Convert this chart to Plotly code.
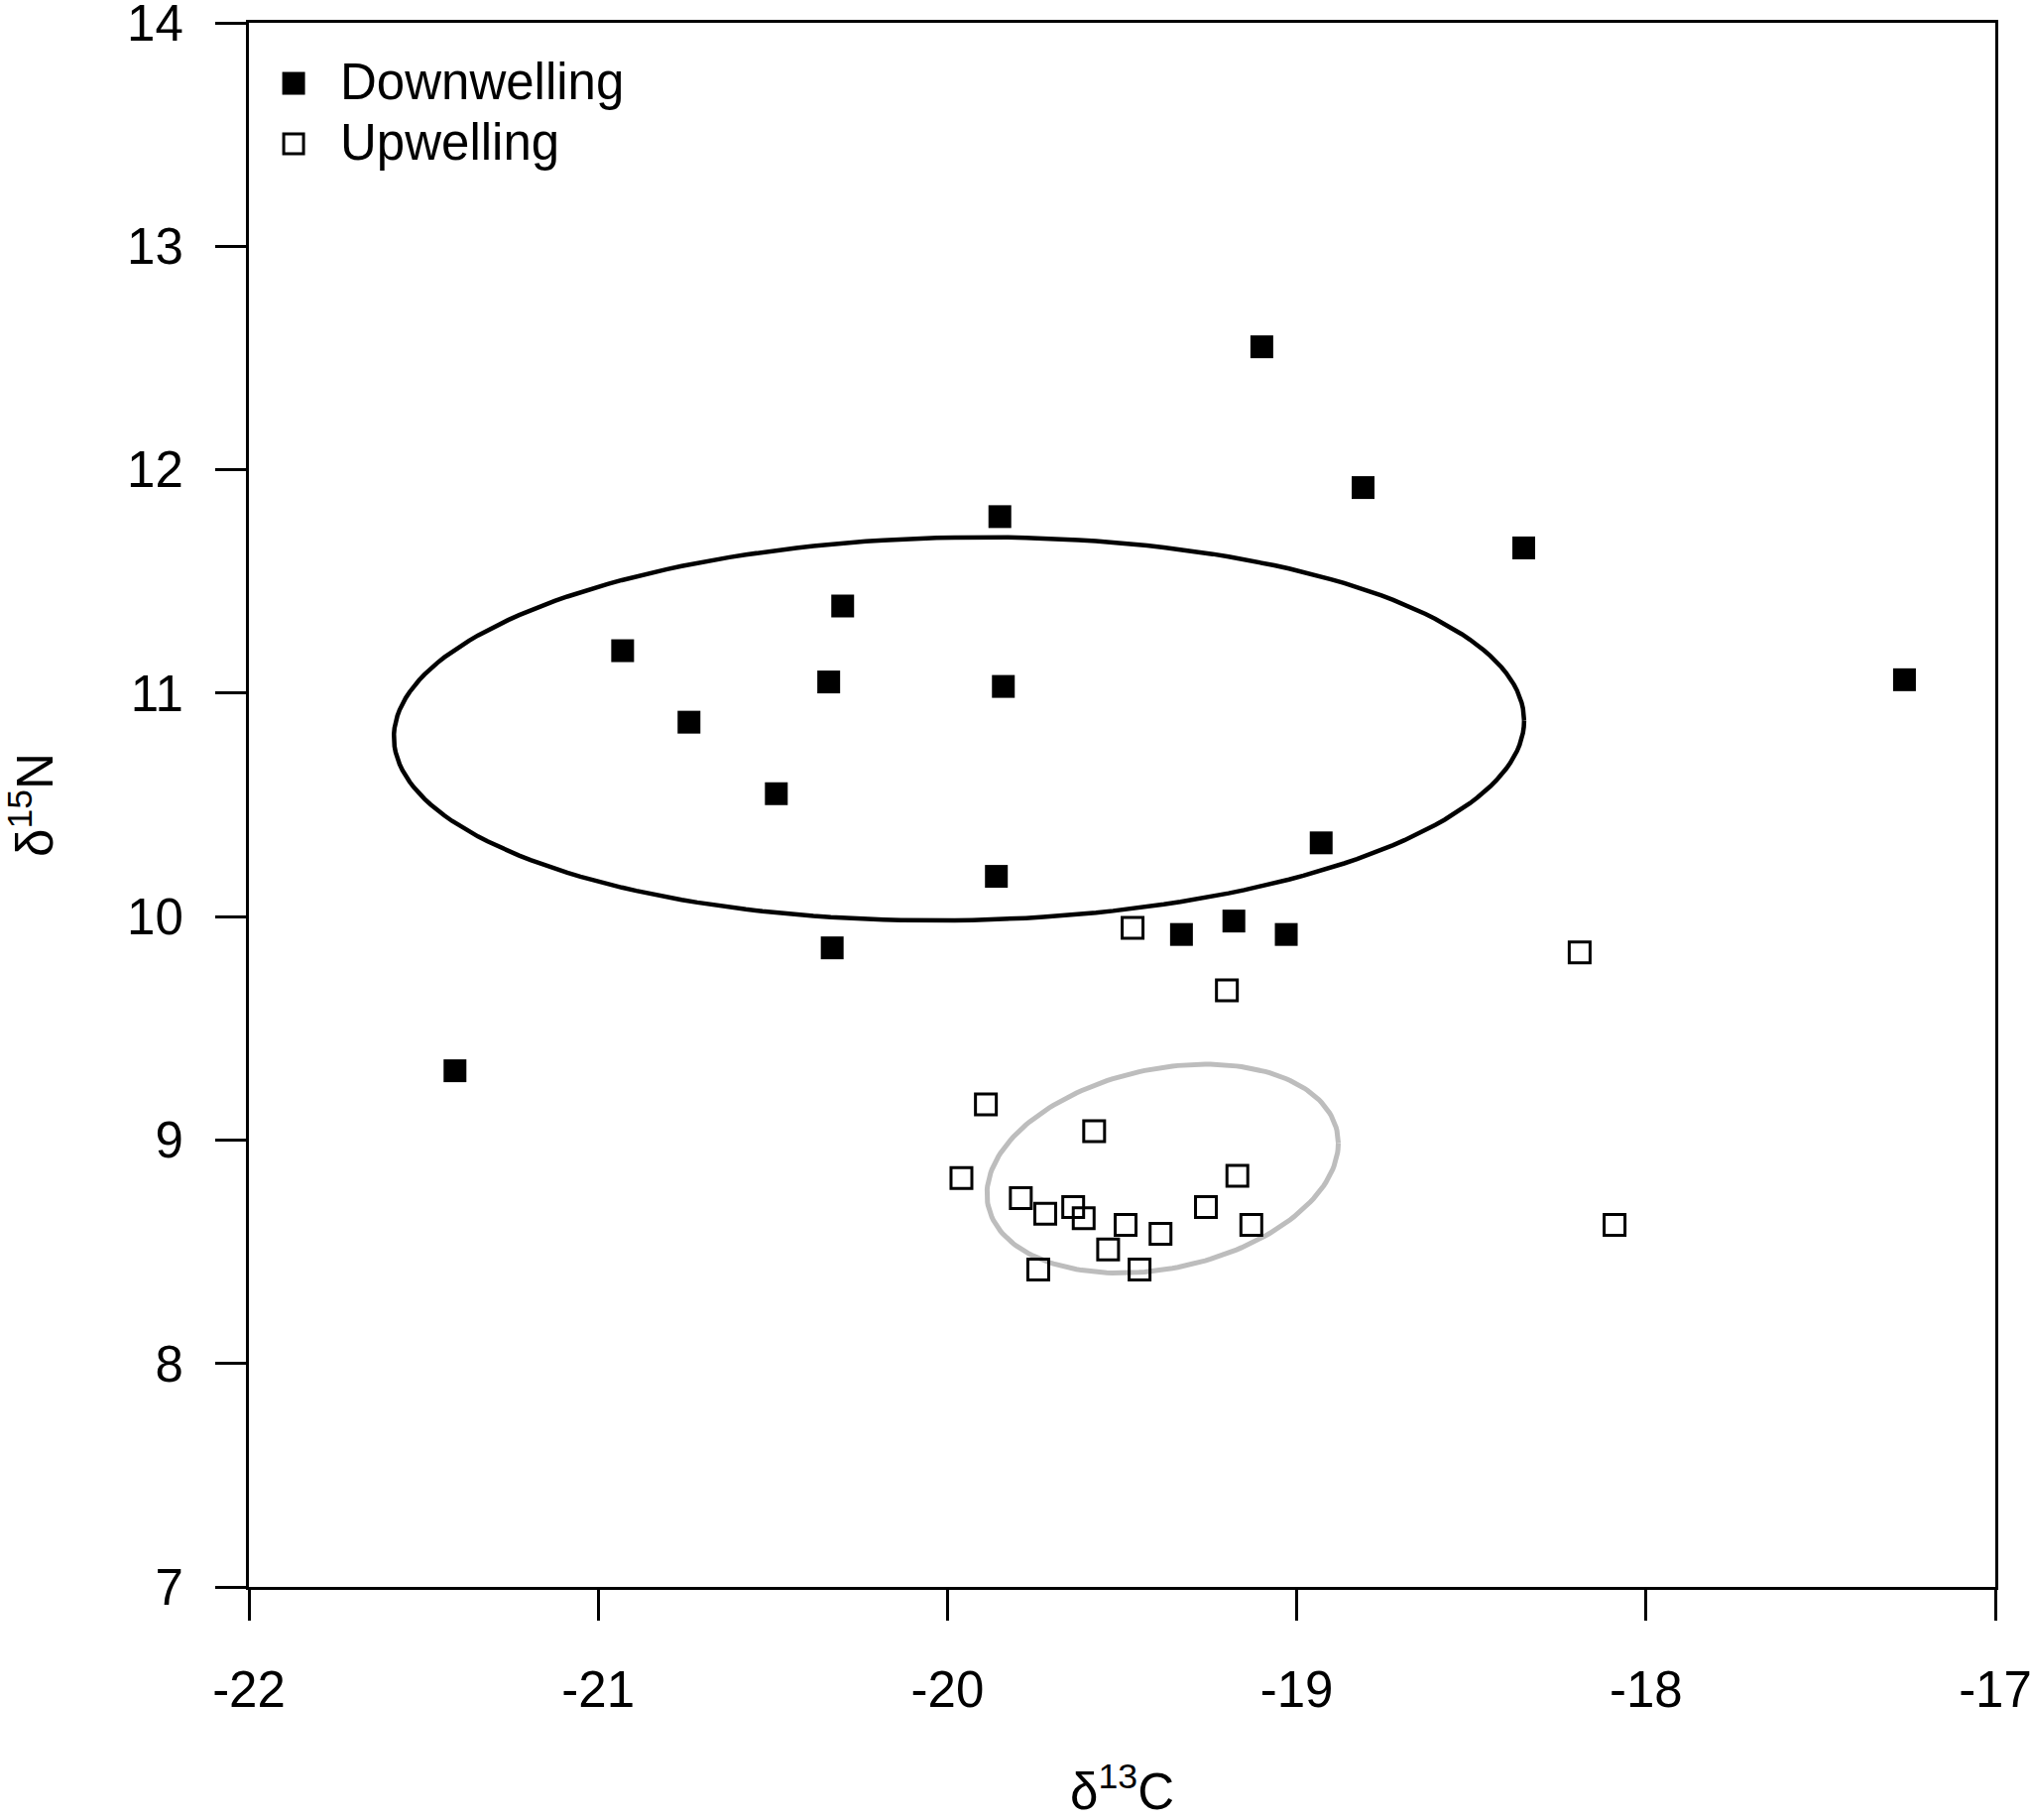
import numpy as np
import plotly.graph_objects as go

# d13C / d15N values
down_x = [-19.10, -18.81, -18.35, -19.85, -20.30, -20.93, -20.34, -19.84, -20.74,
          -17.26, -20.49, -18.93, -19.86, -19.18, -19.33, -19.03, -20.33, -21.41]
down_y = [12.55, 11.92, 11.65, 11.79, 11.39, 11.19, 11.05, 11.03, 10.87,
          11.06, 10.55, 10.33, 10.18, 9.98, 9.92, 9.92, 9.86, 9.31]

up_x = [-19.47, -18.19, -19.20, -19.89, -19.58, -19.96, -19.17, -19.79, -19.64, -19.26,
        -19.72, -19.61, -19.49, -19.13, -18.09, -19.39, -19.54, -19.74, -19.45]
up_y = [9.95, 9.84, 9.67, 9.16, 9.04, 8.83, 8.84, 8.74, 8.70, 8.70,
        8.67, 8.65, 8.62, 8.62, 8.62, 8.58, 8.51, 8.42, 8.42]

# ellipse: centre, half width, half height, tilt (y offset at the x extremes)
down_ell = dict(cx=-19.967, cy=10.840, a=1.618, b=0.857, c=0.037)
up_ell = dict(cx=-19.384, cy=8.872, a=0.503, b=0.453, c=0.114)

x_ticks = [-22, -21, -20, -19, -18, -17]
x_tick_text = ['-22', '-21', '-20', '-19', '-18', '-17']
y_ticks = [7, 8, 9, 10, 11, 12, 13, 14]

FONT = "Liberation Sans, Arial, sans-serif"


def ellipse(e, n=200):
    t = np.linspace(0, 2 * np.pi, n)
    return (e['cx'] + e['a'] * np.cos(t),
            e['cy'] + e['b'] * np.sin(t) + e['c'] * np.cos(t))


fig = go.Figure()

ex, ey = ellipse(down_ell)
fig.add_trace(go.Scatter(x=ex, y=ey, mode='lines', line=dict(color='black', width=4.5),
                         showlegend=False, hoverinfo='skip'))
ex, ey = ellipse(up_ell)
fig.add_trace(go.Scatter(x=ex, y=ey, mode='lines', line=dict(color='#bdbdbd', width=5),
                         showlegend=False, hoverinfo='skip'))

fig.add_trace(go.Scatter(x=down_x, y=down_y, mode='markers', name='Downwelling',
                         marker=dict(symbol='square', size=23, color='black',
                                     line=dict(width=0)),
                         showlegend=False))
fig.add_trace(go.Scatter(x=up_x, y=up_y, mode='markers', name='Upwelling',
                         marker=dict(symbol='square-open', size=21, color='black',
                                     line=dict(width=3)),
                         showlegend=False))

# hand made legend (plotly caps legend symbols at 16px)
legend_items = [('Downwelling', 0.9613, 'black', 0), ('Upwelling', 0.9226, 'white', 3)]
for label, yp, fill, lw in legend_items:
    half = 11.5 if lw == 0 else 10
    fig.add_shape(type='rect', xref='paper', yref='paper',
                  xsizemode='pixel', ysizemode='pixel',
                  xanchor=0.0256, yanchor=yp,
                  x0=-half, x1=half, y0=-half, y1=half,
                  fillcolor=fill, line=dict(color='black', width=lw))
    fig.add_annotation(x=0.0510, y=yp, xref='paper', yref='paper', text=label,
                       showarrow=False, xanchor='left', yanchor='middle', yshift=2,
                       font=dict(size=51, color='black', family=FONT))

axis_common = dict(showline=True, linecolor='black', linewidth=3, mirror=True,
                   ticks='outside', ticklen=31, tickwidth=3, tickcolor='black',
                   showgrid=False, zeroline=False, ticklabeloverflow='allow',
                   automargin=False,
                   tickfont=dict(size=51, color='black', family=FONT))

fig.update_xaxes(range=[-22, -17], tickvals=x_ticks, ticktext=x_tick_text,
                 ticklabelstandoff=26,
                 title=dict(text='δ<sup>13</sup>C', standoff=62,
                            font=dict(size=51, color='black', family=FONT)),
                 **axis_common)
fig.update_yaxes(range=[7, 14], tickvals=y_ticks, ticklabelstandoff=22,
                 title=dict(text='δ<sup>15</sup>N', standoff=80,
                            font=dict(size=51, color='black', family=FONT)),
                 **axis_common)

fig.update_layout(width=2047, height=1835,
                  margin=dict(l=251, r=35, t=23, b=235),
                  paper_bgcolor='white', plot_bgcolor='white',
                  font=dict(family=FONT, color='black'))

fig.write_html("out.html", config={'displayModeBar': False},
               post_script="document.body.style.margin='0';")
